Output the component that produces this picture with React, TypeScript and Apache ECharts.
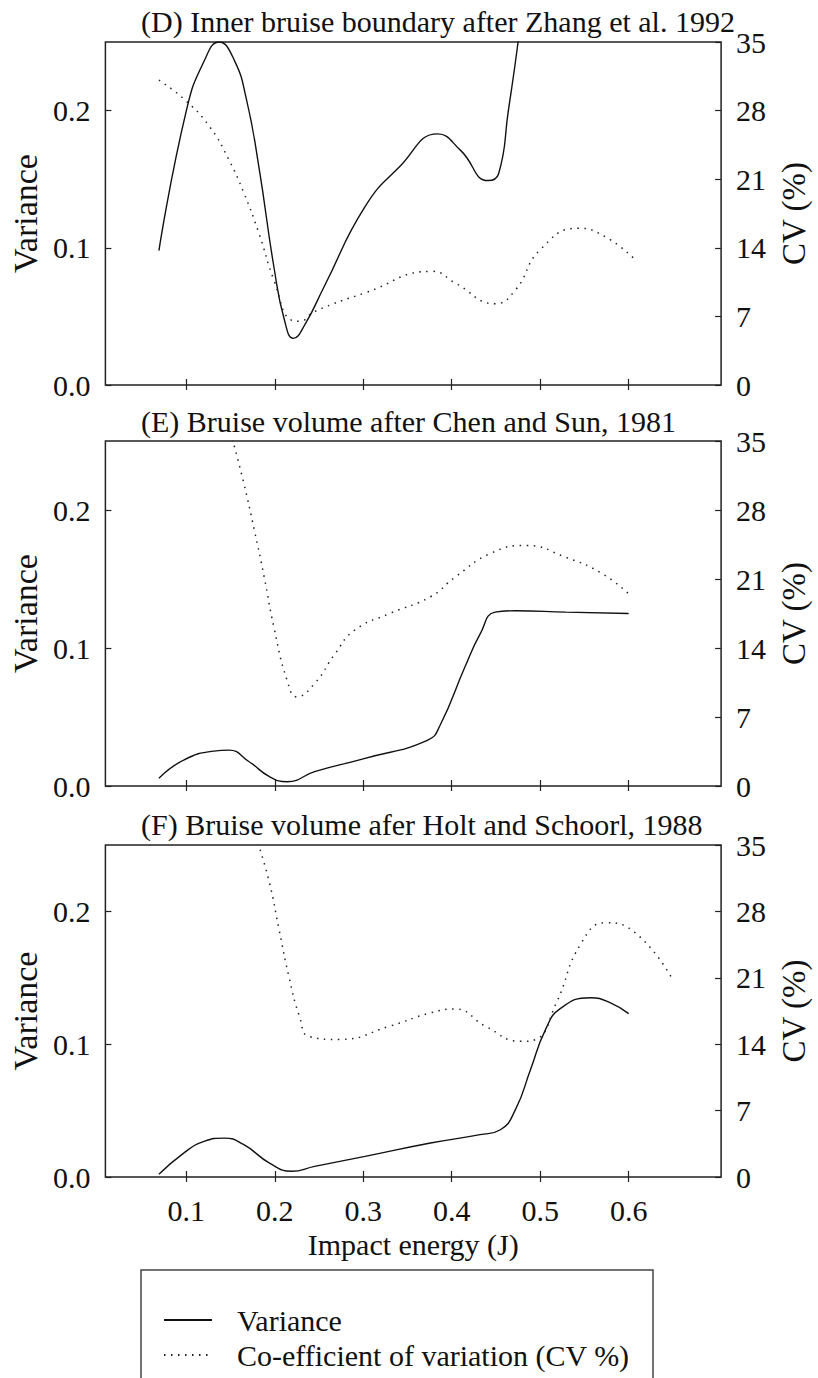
import React, { useEffect, useRef } from "react";
import * as echarts from "echarts";

const FONT = '"Liberation Serif", "Times New Roman", "DejaVu Serif", serif';

// Axis ticks / labels
const energyTicks = [0.1, 0.2, 0.3, 0.4, 0.5, 0.6];
const varianceTicks = [0, 0.1, 0.2];
const cvTicks = [0, 7, 14, 21, 28, 35];

const panelTitles = [
  "(D) Inner bruise boundary after Zhang et al. 1992",
  "(E) Bruise volume after Chen and Sun, 1981",
  "(F) Bruise volume afer Holt and Schoorl, 1988",
];

const legendNames = ["Variance", "Co-efficient of variation (CV %)"];

// Panel D
const energyDVar = [0.069, 0.1, 0.12, 0.137, 0.154, 0.168, 0.182, 0.199, 0.211, 0.221, 0.234, 0.256, 0.302, 0.341, 0.384, 0.41, 0.441, 0.453, 0.464, 0.475, 0.482];
const varianceD = [0.098, 0.2, 0.236, 0.25, 0.237, 0.208, 0.159, 0.086, 0.047, 0.034, 0.044, 0.072, 0.13, 0.159, 0.183, 0.171, 0.149, 0.154, 0.2, 0.25, 0.29];
const energyDCv = [0.069, 0.097, 0.126, 0.148, 0.165, 0.182, 0.199, 0.219, 0.228, 0.245, 0.302, 0.378, 0.404, 0.449, 0.472, 0.5, 0.543, 0.574, 0.606];
const cvD = [31.1, 29.2, 26.4, 23.0, 19.6, 15.5, 10.7, 6.6, 6.5, 7.5, 9.4, 11.6, 10.4, 8.3, 9.7, 13.8, 16.0, 15.1, 12.9];

// Panel E
const energyEVar = [0.069, 0.097, 0.131, 0.148, 0.171, 0.194, 0.214, 0.245, 0.302, 0.373, 0.387, 0.415, 0.432, 0.449, 0.472, 0.529, 0.6];
const varianceE = [0.0056, 0.0188, 0.0253, 0.026, 0.0176, 0.0068, 0.0031, 0.0104, 0.02, 0.0333, 0.0442, 0.0864, 0.11, 0.126, 0.127, 0.126, 0.125];
const energyECv = [0.152, 0.165, 0.177, 0.188, 0.199, 0.214, 0.225, 0.245, 0.268, 0.29, 0.33, 0.376, 0.404, 0.444, 0.484, 0.529, 0.569, 0.6];
const cvE = [35.2, 30.7, 25.9, 21.2, 16.1, 10.7, 9.05, 10.4, 13.4, 15.8, 17.5, 19.2, 21.2, 23.6, 24.4, 23.2, 21.6, 19.5];

// Panel F
const energyFVar = [0.069, 0.097, 0.12, 0.143, 0.165, 0.194, 0.219, 0.245, 0.302, 0.376, 0.432, 0.455, 0.472, 0.489, 0.506, 0.523, 0.557, 0.58, 0.6];
const varianceF = [0.002, 0.018, 0.0268, 0.0293, 0.0243, 0.0105, 0.0043, 0.008, 0.0155, 0.0256, 0.0319, 0.0356, 0.0507, 0.0808, 0.111, 0.127, 0.135, 0.131, 0.123];
const energyFCv = [0.181, 0.194, 0.205, 0.216, 0.228, 0.239, 0.273, 0.33, 0.376, 0.404, 0.438, 0.478, 0.495, 0.518, 0.546, 0.574, 0.608, 0.648];
const cvF = [35.2, 31, 26, 21.1, 16.9, 14.8, 14.5, 15.9, 17.3, 17.7, 15.9, 14.3, 14.5, 18.3, 24.6, 26.8, 25.7, 21.1];

const zip = (xs: number[], ys: number[]) => xs.map((x, i) => [x, ys[i]]);

export default function App() {
  const ref = useRef<HTMLDivElement>(null);

  useEffect(() => {
    if (!ref.current) return;
    const chart = echarts.init(ref.current, null, { renderer: "svg" });

    const grids = [
      { left: 96, top: 42, width: 639, height: 343 },
      { left: 96, top: 441, width: 639, height: 345 },
      { left: 95, top: 845, width: 639, height: 332 },
    ];
    const titleTops = [6, 406, 809];
    const varData = [zip(energyDVar, varianceD), zip(energyEVar, varianceE), zip(energyFVar, varianceF)];
    const cvData = [zip(energyDCv, cvD), zip(energyECv, cvE), zip(energyFCv, cvF)];

    const ink = "#111";
    const textBase = { fontFamily: FONT, color: ink };
    const tickStyle = { color: "#222", width: 1.2 };
    const xMin = 0.0085;
    const xMax = 0.7045;

    const xAxes: any[] = [];
    const yAxes: any[] = [];
    const series: any[] = [];

    grids.forEach((g, i) => {
      xAxes.push({
        type: "value",
        gridIndex: i,
        position: "bottom",
        min: xMin,
        max: xMax,
        axisLine: { show: false },
        splitLine: { show: false },
        axisTick: { inside: true, length: 6, customValues: energyTicks, lineStyle: tickStyle },
        axisLabel: {
          show: i === 2,
          customValues: energyTicks,
          formatter: (v: number) => v.toFixed(1),
          fontSize: 30,
          margin: 18,
          ...textBase,
        },
        name: i === 2 ? "Impact energy (J)" : "",
        nameLocation: "middle",
        nameGap: 52,
        nameTextStyle: { fontSize: 30, ...textBase },
      });
    });
    grids.forEach((g, i) => {
      xAxes.push({
        type: "value",
        gridIndex: i,
        position: "top",
        min: xMin,
        max: xMax,
        axisLine: { show: false },
        splitLine: { show: false },
        axisTick: { inside: true, length: 5, customValues: energyTicks, lineStyle: tickStyle },
        axisLabel: { show: false },
      });
    });
    grids.forEach((g, i) => {
      yAxes.push({
        type: "value",
        gridIndex: i,
        position: "left",
        min: 0,
        max: 0.25,
        axisLine: { show: false },
        splitLine: { show: false },
        axisTick: { inside: true, length: 6, customValues: varianceTicks, lineStyle: tickStyle },
        axisLabel: {
          customValues: varianceTicks,
          formatter: (v: number) => v.toFixed(1),
          fontSize: 30,
          margin: 15,
          ...textBase,
        },
        name: "Variance",
        nameLocation: "middle",
        nameRotate: 90,
        nameGap: 58,
        nameTextStyle: { fontSize: 34, ...textBase },
      });
    });
    grids.forEach((g, i) => {
      yAxes.push({
        type: "value",
        gridIndex: i,
        position: "right",
        min: 0,
        max: 35,
        interval: 7,
        axisLine: { show: false },
        splitLine: { show: false },
        axisTick: { inside: true, length: 6, customValues: cvTicks, lineStyle: tickStyle },
        axisLabel: { fontSize: 30, margin: 15, customValues: cvTicks, ...textBase },
        name: "CV (%)",
        nameLocation: "middle",
        nameRotate: 90,
        nameGap: 48,
        nameTextStyle: { fontSize: 33, ...textBase },
      });
    });

    grids.forEach((g, i) => {
      series.push({
        name: legendNames[0],
        type: "line",
        xAxisIndex: i,
        yAxisIndex: i,
        data: varData[i],
        symbol: "none",
        smooth: 0.5,
        clip: true,
        lineStyle: { color: ink, width: 1.4 },
        itemStyle: { color: ink },
      });
      series.push({
        name: legendNames[1],
        type: "line",
        xAxisIndex: i,
        yAxisIndex: 3 + i,
        data: cvData[i],
        symbol: "none",
        smooth: 0.5,
        clip: true,
        lineStyle: { color: "#222", width: 1.5, type: [1.5, 5.5] },
        itemStyle: { color: "#222" },
      });
    });

    chart.setOption({
      animation: false,
      backgroundColor: "#fff",
      title: panelTitles.map((t, i) => ({
        text: t,
        left: 141,
        top: titleTops[i],
        padding: 0,
        textStyle: { fontSize: 30, fontWeight: "normal", ...textBase },
      })),
      grid: grids.map((g) => ({ ...g, show: true, borderColor: "#222", borderWidth: 1.5, backgroundColor: "transparent" })),
      xAxis: xAxes,
      yAxis: yAxes,
      legend: {
        data: legendNames,
        orient: "vertical",
        left: 163,
        top: 1305,
        itemWidth: 48,
        itemHeight: 14,
        itemGap: 5,
        padding: 0,
        itemStyle: { opacity: 0 },
        textStyle: { fontSize: 30, padding: [0, 0, 0, 20], ...textBase },
      },
      graphic: [
        {
          type: "rect",
          shape: { x: 141, y: 1270, width: 512, height: 140 },
          style: { fill: "none", stroke: "#444", lineWidth: 1.5 },
          silent: true,
        },
      ],
      series,
    });

    return () => chart.dispose();
  }, []);

  return <div ref={ref} style={{ position: "absolute", left: 0, top: 0, width: 818, height: 1378 }} />;
}
